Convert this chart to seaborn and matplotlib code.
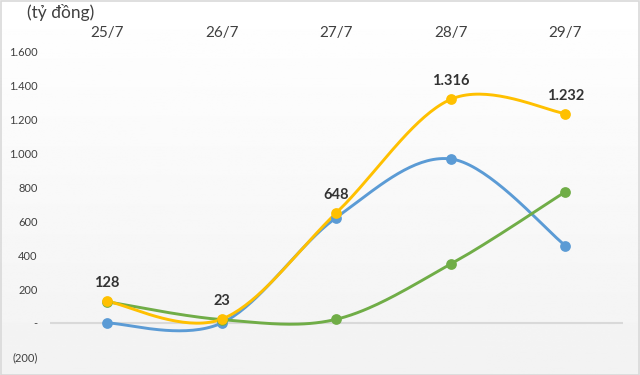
import numpy as np
import pandas as pd
import matplotlib
matplotlib.use("Agg")
import matplotlib.pyplot as plt
import seaborn as sns
from matplotlib.ticker import FuncFormatter
from matplotlib.patches import Rectangle

# ---- data ----
categories = ["25/7", "26/7", "27/7", "28/7", "29/7"]
series_blue = [0, 0, 620, 965, 455]
series_green = [125, 20, 22, 347, 772]
series_yellow = [128, 23, 648, 1316, 1232]
yellow_labels = ["128", "23", "648", "1.316", "1.232"]
unit_label = "(tỷ đồng)"
y_ticks = [-200, 0, 200, 400, 600, 800, 1000, 1200, 1400, 1600]

COL_BLUE = "#5B9BD5"
COL_GREEN = "#70AD47"
COL_YELLOW = "#FFC000"

sns.set_theme(style="white")
plt.rcParams["font.family"] = ["Lato", "DejaVu Sans"]


def smooth(xs, ys, n=40):
    """Catmull-Rom (Excel-style) smoothing for drawing the line."""
    xs = np.asarray(xs, float)
    ys = np.asarray(ys, float)
    px = np.concatenate([[xs[0]], xs, [xs[-1]]])
    py = np.concatenate([[ys[0]], ys, [ys[-1]]])
    out_x, out_y = [], []
    for i in range(1, len(px) - 2):
        p0, p1, p2, p3 = (np.array([px[j], py[j]]) for j in (i - 1, i, i + 1, i + 2))
        c1 = p1 + (p2 - p0) / 6
        c2 = p2 - (p3 - p1) / 6
        t = np.linspace(0, 1, n)[:, None]
        pts = ((1 - t) ** 3) * p1 + 3 * ((1 - t) ** 2) * t * c1 + 3 * (1 - t) * t ** 2 * c2 + t ** 3 * p2
        out_x.extend(pts[:, 0])
        out_y.extend(pts[:, 1])
    return np.array(out_x), np.array(out_y)


fig = plt.figure(figsize=(6.4, 3.75), dpi=100)

# background gradient + border
bg = fig.add_axes([0, 0, 1, 1], zorder=-10)
grad = np.linspace(1.0, 0.95, 256)[:, None] * np.ones((1, 2))
bg.imshow(grad, aspect="auto", cmap="gray", vmin=0, vmax=1, extent=[0, 1, 0, 1], origin="upper")
bg.add_patch(Rectangle((0.001, 0.001), 0.997, 0.997, fill=False, edgecolor="#d9d9d9", lw=1.2,
                       transform=bg.transAxes))
bg.set_axis_off()

ax = fig.add_axes([0.078, 0.048, 0.895, 0.816])
ax.patch.set_alpha(0)

xpos = np.arange(len(categories))
ax.axhline(0, color="#d9d9d9", lw=1.5, zorder=1)

for vals, col in [(series_blue, COL_BLUE), (series_green, COL_GREEN), (series_yellow, COL_YELLOW)]:
    sx, sy = smooth(xpos, vals)
    df_line = pd.DataFrame({"x": sx, "y": sy})
    sns.lineplot(data=df_line, x="x", y="y", ax=ax, color=col, lw=2.1, sort=False,
                 estimator=None, zorder=3)
    df_pts = pd.DataFrame({"x": xpos, "y": vals})
    sns.scatterplot(data=df_pts, x="x", y="y", ax=ax, color=col, s=60, edgecolor=col,
                    linewidth=0, zorder=4)

for x, y, lab in zip(xpos, series_yellow, yellow_labels):
    ax.annotate(lab, (x, y), xytext=(0, 13), textcoords="offset points", ha="center",
                va="center", fontsize=10.5, fontweight="bold", color="#333333")

ax.set_xlim(-0.5, len(categories) - 0.5)
ax.set_ylim(-200, 1600)
ax.set_xticks(xpos)
ax.set_xticklabels(categories)
ax.xaxis.tick_top()
ax.tick_params(axis="x", length=0, pad=8, labelsize=11, labelcolor="#404040")
ax.set_yticks(y_ticks)


def fmt(v, pos):
    if v == 0:
        return "-"
    s = f"{abs(int(v)):,}".replace(",", ".")
    return f"({s})" if v < 0 else s


ax.yaxis.set_major_formatter(FuncFormatter(fmt))
ax.tick_params(axis="y", length=0, pad=9, labelsize=8, labelcolor="#404040")
ax.set_xlabel("")
ax.set_ylabel("")
for sp in ax.spines.values():
    sp.set_visible(False)
ax.grid(False)

fig.text(0.094, 0.966, unit_label, ha="center", va="center", fontsize=12.5, color="#404040")

fig.savefig("out.png", dpi=100)
